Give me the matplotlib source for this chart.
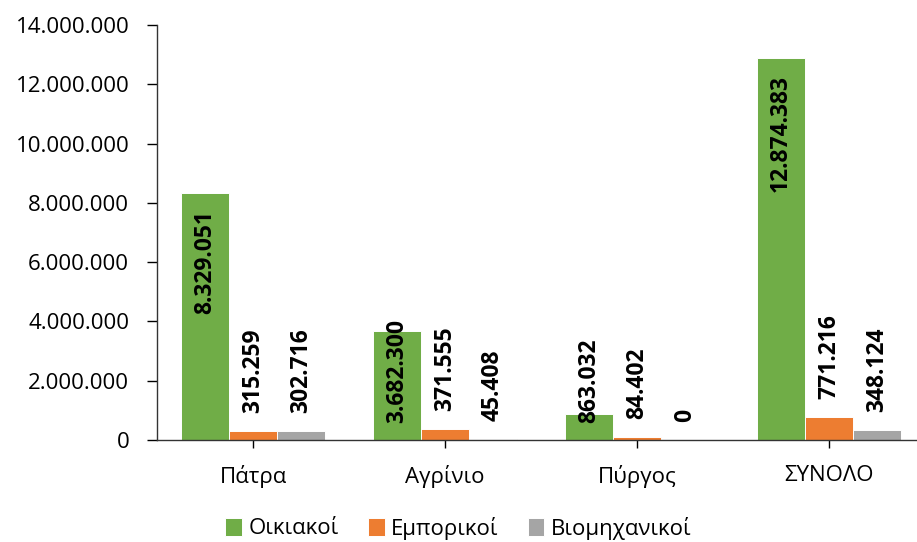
import numpy as np
import matplotlib
matplotlib.use("Agg")
import matplotlib.pyplot as plt
from matplotlib.ticker import FuncFormatter

plt.rcParams['font.family'] = ['Open Sans', 'DejaVu Sans']

categories = ["Πάτρα", "Αγρίνιο", "Πύργος", "ΣΥΝΟΛΟ"]
series_names = ["Οικιακοί", "Εμπορικοί", "Βιομηχανικοί"]
oikiakoi = [8329051, 3682300, 863032, 12874383]
emporikoi = [315259, 371555, 84402, 771216]
viomichanikoi = [302716, 45408, 0, 348124]
colors = ["#70AD47", "#ED7D31", "#A5A5A5"]


def fmt(v, pos=None):
    return f"{int(v):,}".replace(",", ".")


fig = plt.figure(figsize=(9.17, 5.42), dpi=100)
ax = fig.add_axes([157 / 917, 1 - 440 / 542, 768 / 917, 415 / 542])

x = np.arange(len(categories))
w = 0.25
all_series = [oikiakoi, emporikoi, viomichanikoi]
for i, (vals, name, c) in enumerate(zip(all_series, series_names, colors)):
    bars = ax.bar(x + (i - 1) * w, vals, w, color=c, edgecolor="white",
                  linewidth=0.7, label=name)
    for b, v in zip(bars, vals):
        cx = b.get_x() + b.get_width() / 2
        if i == 0 and v > 4.5e6:
            # inside end
            ax.annotate(fmt(v), (cx, v), xytext=(0, -12), textcoords="offset points",
                        rotation=90, ha="center", va="top", fontsize=16.5,
                        fontweight="bold")
        elif i == 0:
            # inside base
            ax.annotate(fmt(v), (cx, 0), xytext=(0, 12), textcoords="offset points",
                        rotation=90, ha="center", va="bottom", fontsize=16.5,
                        fontweight="bold")
        else:
            ax.annotate(fmt(v), (cx, v), xytext=(0, 13), textcoords="offset points",
                        rotation=90, ha="center", va="bottom", fontsize=16.5,
                        fontweight="bold")

ax.set_xlim(-0.5, len(categories) - 0.5)
ax.set_ylim(0, 14000000)
ax.set_yticks(np.arange(0, 14000001, 2000000))
ax.yaxis.set_major_formatter(FuncFormatter(fmt))
ax.set_xticks(x)
ax.set_xticklabels(categories)
ax.tick_params(axis="y", length=7, width=1, pad=13, labelsize=16)
ax.tick_params(axis="x", length=6, width=1, pad=12, labelsize=16)
for s in ["top", "right"]:
    ax.spines[s].set_visible(False)
for s in ["left", "bottom"]:
    ax.spines[s].set_color("#333333")
    ax.spines[s].set_linewidth(1)

fig.legend(loc="center", bbox_to_anchor=(0.5, 1 - 528 / 542), ncol=3, frameon=False,
           fontsize=16, handlelength=0.75, handleheight=0.85, handletextpad=0.3,
           columnspacing=1.3)

fig.savefig("out.png", dpi=100)
